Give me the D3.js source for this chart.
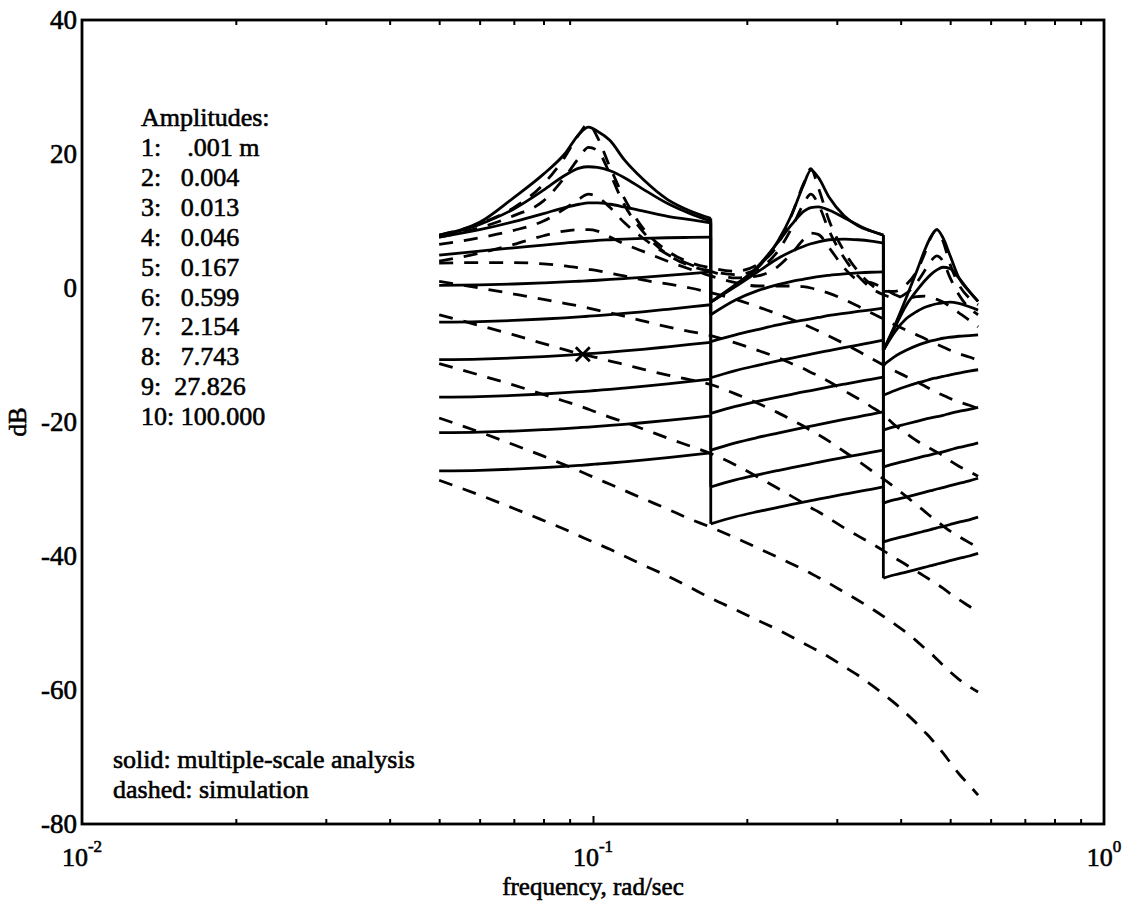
<!DOCTYPE html>
<html><head><meta charset="utf-8">
<script src="https://cdn.jsdelivr.net/npm/d3@7"></script>
<style>
body{margin:0;background:#fff}
svg{display:block;background:#fff}
text{font-family:"Liberation Serif","Times New Roman",serif;fill:#000}
</style></head><body><svg id="c" width="1127" height="902"></svg>
<script>
// ---------- data ----------
const yTicks = [-80, -60, -40, -20, 0, 20, 40];
const xTicks = [0.01, 0.1, 1];
const xTickExponents = ["-2", "-1", "0"];
const minorTicks = [0.02,0.03,0.04,0.05,0.06,0.07,0.08,0.09,0.2,0.3,0.4,0.5,0.6,0.7,0.8,0.9];
const amplitudeTitle = "Amplitudes:";
const amplitudeLabels = ["1:    .001 m","2:   0.004","3:   0.013","4:   0.046","5:   0.167","6:   0.599","7:   2.154","8:   7.743","9:  27.826","10: 100.000"];
const noteLines = ["solid: multiple-scale analysis", "dashed: simulation"];
const xLabel = "frequency, rad/sec";
const yLabel = "dB";

// multiple-scale analysis, three frequency bands (solid)
const freqSeg1 = [0.05,0.06,0.07,0.08,0.088,0.094,0.098,0.102,0.108,0.115,0.125,0.14,0.155,0.17];
const analysisSeg1 = [
  [7.9,9.8,13.5,17.0,20.0,23.0,24.0,23.4,22.0,19.2,16.3,13.2,11.5,10.4],
  [7.7,9.5,11.8,14.6,16.8,17.9,18.1,18.0,17.5,16.5,14.8,12.6,11.1,10.0],
  [7.6,8.7,9.9,11.1,12.0,12.5,12.7,12.7,12.5,12.1,11.5,10.7,10.2,9.7],
  [4.9,5.5,6.0,6.4,6.7,6.9,7.0,7.1,7.2,7.3,7.4,7.5,7.55,7.6],
  [0.4,0.47,0.6,0.76,0.9,1.01,1.08,1.16,1.28,1.41,1.59,1.87,2.15,2.4],
  [-5.1,-5.01,-4.84,-4.63,-4.45,-4.31,-4.21,-4.11,-3.96,-3.79,-3.55,-3.18,-2.83,-2.5],
  [-10.7,-10.61,-10.44,-10.23,-10.05,-9.91,-9.81,-9.71,-9.56,-9.39,-9.15,-8.78,-8.43,-8.1],
  [-16.3,-16.21,-16.03,-15.82,-15.63,-15.48,-15.38,-15.27,-15.12,-14.94,-14.69,-14.31,-13.94,-13.6],
  [-21.6,-21.52,-21.35,-21.15,-20.98,-20.84,-20.75,-20.65,-20.5,-20.34,-20.11,-19.76,-19.42,-19.1],
  [-27.3,-27.21,-27.03,-26.82,-26.63,-26.48,-26.38,-26.27,-26.12,-25.94,-25.69,-25.31,-24.94,-24.6]
];
const freqSeg2 = [0.17,0.19,0.21,0.23,0.245,0.258,0.267,0.276,0.29,0.31,0.33,0.35,0.37];
const analysisSeg2 = [
  [-2.1,0.5,3.0,7.0,11.0,15.3,17.6,16.5,13.5,10.8,9.3,8.5,7.9],
  [-2.1,0.4,3.2,6.8,9.5,11.4,12.0,12.1,11.6,10.5,9.4,8.5,7.9],
  [-2.1,0.2,2.4,4.4,5.5,6.2,6.6,6.9,7.2,7.3,7.2,7.0,6.7],
  [-4.0,-1.8,-0.4,0.5,1.0,1.3,1.5,1.7,1.9,2.1,2.25,2.35,2.4],
  [-8.0,-7.0,-6.2,-5.5,-5.1,-4.8,-4.6,-4.4,-4.1,-3.8,-3.5,-3.25,-3.0],
  [-13.4,-12.32,-11.55,-10.89,-10.45,-10.1,-9.87,-9.65,-9.33,-8.9,-8.51,-8.14,-7.8],
  [-18.7,-17.66,-16.91,-16.28,-15.86,-15.51,-15.3,-15.09,-14.77,-14.36,-13.98,-13.63,-13.3],
  [-24.2,-23.11,-22.31,-21.65,-21.2,-20.84,-20.61,-20.39,-20.06,-19.62,-19.22,-18.85,-18.5],
  [-29.7,-28.64,-27.88,-27.24,-26.81,-26.46,-26.24,-26.02,-25.7,-25.28,-24.89,-24.54,-24.2],
  [-35.2,-34.14,-33.38,-32.74,-32.31,-31.96,-31.74,-31.52,-31.2,-30.78,-30.39,-30.04,-29.7]
];
const freqSeg3 = [0.37,0.39,0.41,0.43,0.445,0.458,0.471,0.484,0.5,0.52,0.545,0.567];
const analysisSeg3 = [
  [-9.3,-5.5,-1.5,2.5,5.5,7.6,8.7,7.5,4.8,1.5,-0.5,-2.0],
  [-9.3,-5.8,-2.6,-0.4,1.0,2.0,2.7,3.1,2.9,1.5,-0.5,-2.0],
  [-9.3,-6.5,-4.6,-3.5,-2.9,-2.6,-2.35,-2.2,-2.1,-2.3,-2.8,-3.3],
  [-11.5,-10.2,-9.3,-8.6,-8.2,-7.9,-7.7,-7.5,-7.35,-7.2,-7.1,-7.0],
  [-16.0,-15.3,-14.7,-14.2,-13.9,-13.6,-13.4,-13.2,-12.95,-12.7,-12.4,-12.2],
  [-21.2,-20.7,-20.3,-19.9,-19.6,-19.4,-19.2,-19.0,-18.7,-18.4,-18.1,-17.8],
  [-26.7,-26.2,-25.8,-25.4,-25.1,-24.9,-24.65,-24.45,-24.15,-23.8,-23.45,-23.1],
  [-32.1,-31.6,-31.2,-30.8,-30.5,-30.25,-30.0,-29.8,-29.5,-29.15,-28.8,-28.4],
  [-37.9,-37.4,-37.0,-36.6,-36.3,-36.05,-35.8,-35.6,-35.3,-34.95,-34.6,-34.2],
  [-43.3,-42.8,-42.4,-42.0,-41.7,-41.45,-41.2,-41.0,-40.7,-40.35,-40.0,-39.6]
];

// simulation (dashed)
const simFreq = [0.05,0.06,0.07,0.08,0.088,0.094,0.098,0.102,0.108,0.115,0.125,0.14,0.155,0.17,0.19,0.21,0.23,0.245,0.258,0.267,0.276,0.29,0.31,0.33,0.35,0.37,0.39,0.41,0.43,0.445,0.458,0.471,0.484,0.5,0.52,0.545,0.567];
const simulation = [
  [7.9,9.6,12.0,15.5,19.5,23.0,24.5,22.5,18.0,13.5,9.0,5.5,3.8,3.0,2.5,3.5,6.5,11.0,15.5,17.8,15.0,10.0,5.5,2.5,0.5,-0.5,-0.5,0.5,2.5,5.0,7.5,8.7,7.0,3.5,0.5,-1.5,-2.5],
  [7.6,9.0,10.8,13.0,16.5,19.5,21.0,20.5,17.0,12.5,8.5,5.0,3.3,2.5,2.0,2.8,5.5,9.0,12.5,14.0,12.5,8.5,4.5,1.8,0.0,-1.0,-1.5,-0.8,0.8,2.5,4.0,4.8,4.0,1.5,-1.0,-3.0,-4.0],
  [6.5,7.5,8.6,10.0,11.8,13.3,14.0,13.6,12.0,9.8,7.5,5.0,3.5,2.5,1.5,1.8,3.2,5.2,7.2,8.2,8.0,6.0,3.0,1.2,0.8,0.0,-1.0,-1.5,-1.3,-1.2,-1.4,-1.7,-2.1,-2.8,-3.7,-4.8,-5.8],
  [4.0,5.2,6.5,7.8,8.5,8.7,8.7,8.5,7.6,6.6,5.5,4.0,2.8,1.8,0.8,0.3,0.3,0.3,0.2,0.0,-0.3,-0.8,-1.7,-2.7,-3.7,-4.6,-5.5,-6.3,-7.0,-7.5,-8.0,-8.4,-8.8,-9.3,-9.8,-10.3,-10.8],
  [3.7,3.8,3.8,3.6,3.3,3.0,2.8,2.6,2.2,1.8,1.2,0.6,0.0,-0.7,-1.7,-2.8,-3.9,-4.7,-5.4,-5.9,-6.4,-7.2,-8.3,-9.4,-10.5,-11.5,-12.4,-13.2,-14.0,-14.6,-15.1,-15.6,-16.0,-16.5,-17.0,-17.5,-18.0],
  [1.0,0.0,-0.9,-1.7,-2.3,-2.7,-3.0,-3.3,-3.7,-4.2,-4.9,-5.8,-6.5,-7.1,-8.2,-9.3,-10.4,-11.3,-12.0,-12.6,-13.1,-14.0,-15.3,-16.5,-17.7,-18.9,-20.5,-21.7,-22.8,-23.5,-24.0,-24.5,-25.0,-25.8,-26.6,-27.4,-28.1],
  [-4.0,-5.6,-7.0,-8.3,-9.2,-9.8,-10.1,-10.4,-10.9,-11.4,-12.1,-13.0,-13.7,-14.4,-15.8,-17.2,-18.6,-19.7,-20.6,-21.3,-21.9,-22.9,-24.4,-25.8,-27.2,-28.5,-29.8,-31.1,-32.4,-33.3,-34.1,-34.8,-35.5,-36.3,-37.1,-38.0,-38.7],
  [-11.3,-13.0,-14.5,-15.9,-16.9,-17.6,-18.1,-18.6,-19.3,-20.0,-21.0,-22.4,-23.6,-24.7,-26.4,-28.2,-29.9,-31.1,-32.1,-32.8,-33.4,-34.4,-35.8,-37.0,-38.1,-39.2,-40.3,-41.3,-42.3,-43.0,-43.6,-44.2,-44.8,-45.6,-46.5,-47.5,-48.4],
  [-19.4,-21.5,-23.4,-25.1,-26.4,-27.3,-27.9,-28.5,-29.3,-30.2,-31.4,-33.0,-34.5,-35.7,-37.3,-38.8,-40.2,-41.2,-42.0,-42.6,-43.2,-44.1,-45.4,-46.6,-47.8,-49.0,-50.2,-51.4,-52.7,-53.7,-54.5,-55.4,-56.3,-57.3,-58.4,-59.5,-60.3],
  [-28.7,-30.9,-32.9,-34.7,-36.0,-37.0,-37.6,-38.2,-39.0,-40.0,-41.3,-43.0,-44.7,-46.3,-48.0,-49.6,-51.0,-52.1,-53.0,-53.6,-54.2,-55.1,-56.5,-57.8,-59.2,-60.6,-62.0,-63.5,-65.0,-66.2,-67.2,-68.3,-69.4,-70.8,-72.5,-74.2,-75.7]
];
const markerPoint = [0.0955, -9.9];

// ---------- drawing ----------
const W = 1127, H = 902;
const svg = d3.select("#c");
svg.append("rect").attr("width", W).attr("height", H).attr("fill", "#fff");
const L = 82, R = 1104, T = 20, B = 824;
const x = d3.scaleLog().domain([0.01, 1]).range([L, R]);
const y = d3.scaleLinear().domain([-80, 40]).range([B, T]);
const FONT = "Liberation Serif";

const line = d3.line().x(d => x(d[0])).y(d => y(d[1])).curve(d3.curveMonotoneX);
const lineLin = d3.line().x(d => x(d[0])).y(d => y(d[1]));

const g = svg.append("g");

// dashed simulation
simulation.forEach(vals => {
  g.append("path")
    .attr("d", line(simFreq.map((f, i) => [f, vals[i]])))
    .attr("fill", "none").attr("stroke", "#000").attr("stroke-width", 2.8)
    .attr("stroke-dasharray", "14,11");
});

// solid analysis: each amplitude one polyline across three bands (jumps produce the vertical lines)
for (let k = 0; k < 10; k++) {
  const p1 = line(freqSeg1.map((f, i) => [f, analysisSeg1[k][i]]));
  const p2 = line(freqSeg2.map((f, i) => [f, analysisSeg2[k][i]]));
  const p3 = line(freqSeg3.map((f, i) => [f, analysisSeg3[k][i]]));
  const j1 = lineLin([[freqSeg1[freqSeg1.length-1], analysisSeg1[k][freqSeg1.length-1]],[freqSeg2[0], analysisSeg2[k][0]]]);
  const j2 = lineLin([[freqSeg2[freqSeg2.length-1], analysisSeg2[k][freqSeg2.length-1]],[freqSeg3[0], analysisSeg3[k][0]]]);
  [p1, j1, p2, j2, p3].forEach(d => g.append("path").attr("d", d)
    .attr("fill", "none").attr("stroke", "#000").attr("stroke-width", 2.8)
    .attr("stroke-linejoin", "round"));
}

// x marker
const mx = x(markerPoint[0]), my = y(markerPoint[1]);
g.append("path").attr("d", `M${mx-7},${my-7}L${mx+7},${my+7}M${mx-7},${my+7}L${mx+7},${my-7}`)
  .attr("stroke", "#000").attr("stroke-width", 2.8);

// frame
svg.append("rect").attr("x", L).attr("y", T).attr("width", R - L).attr("height", B - T)
  .attr("fill", "none").attr("stroke", "#000").attr("stroke-width", 2.8);

// minor ticks top & bottom (inward)
const axB = svg.append("g").attr("transform", `translate(0,${B})`)
  .call(d3.axisBottom(x).tickValues(minorTicks).tickSize(-5).tickFormat(""));
const axT = svg.append("g").attr("transform", `translate(0,${T})`)
  .call(d3.axisTop(x).tickValues(minorTicks).tickSize(-5).tickFormat(""));
[axB, axT].forEach(a => { a.select(".domain").remove(); a.selectAll("line").attr("stroke", "#000").attr("stroke-width", 2); });
const axB2 = svg.append("g").attr("transform", `translate(0,${B})`)
  .call(d3.axisBottom(x).tickValues([0.1]).tickSize(-8).tickFormat(""));
axB2.select(".domain").remove(); axB2.selectAll("line").attr("stroke", "#000").attr("stroke-width", 2);

// y tick labels
const ay = svg.append("g").attr("transform", `translate(${L},0)`)
  .call(d3.axisLeft(y).tickValues(yTicks).tickSize(0).tickPadding(5).tickFormat(d => String(d)));
ay.select(".domain").remove();
ay.attr("font-family", FONT);
ay.selectAll("text").attr("font-size", 27).attr("font-family", FONT).attr("fill", "#000")
  .attr("stroke", "#000").attr("stroke-width", 0.6);

// x tick labels with exponents
xTicks.forEach((v, i) => {
  const t = svg.append("text").attr("x", x(v)).attr("y", 866).attr("text-anchor", "middle")
    .attr("font-family", FONT).attr("font-size", 26).attr("stroke", "#000").attr("stroke-width", 0.6);
  t.append("tspan").text("10");
  t.append("tspan").attr("font-size", 17).attr("dy", -14).text(xTickExponents[i]);
});

// axis titles
svg.append("text").attr("x", x(0.1)).attr("y", 895).attr("text-anchor", "middle")
  .attr("font-family", FONT).attr("font-size", 25).attr("stroke", "#000").attr("stroke-width", 0.6).text(xLabel);
svg.append("text").attr("transform", `translate(26,${y(-20)}) rotate(-90)`).attr("text-anchor", "middle")
  .attr("font-family", FONT).attr("font-size", 25).attr("stroke", "#000").attr("stroke-width", 0.6).text(yLabel);

// legend text
const leg = svg.append("g").attr("font-family", FONT).attr("font-size", 26).attr("stroke", "#000").attr("stroke-width", 0.6);
leg.append("text").attr("x", 141).attr("y", 126).text(amplitudeTitle);
amplitudeLabels.forEach((s, i) => {
  leg.append("text").attr("x", 141).attr("y", 156 + i * 29.9).attr("xml:space", "preserve")
    .style("white-space", "pre").text(s);
});
noteLines.forEach((s, i) => {
  leg.append("text").attr("x", 113).attr("y", 768 + i * 30).text(s);
});
</script></body></html>
